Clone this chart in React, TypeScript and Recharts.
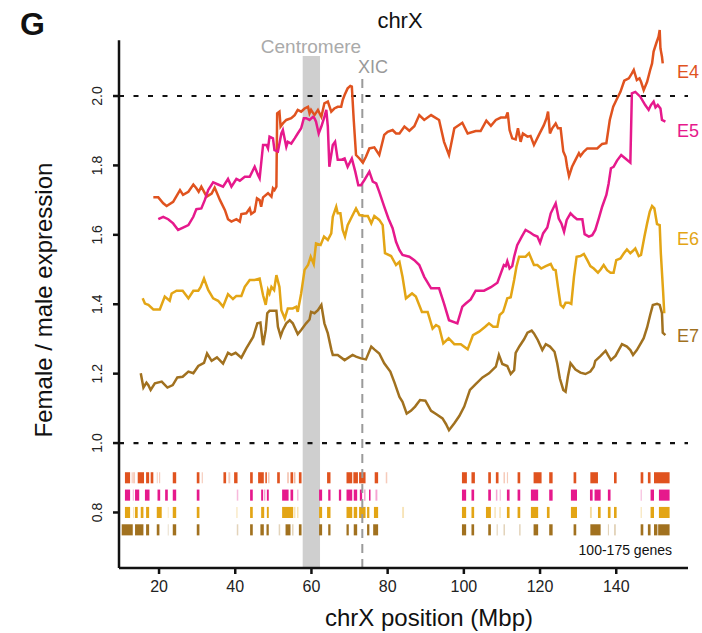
import React from "react"
import { LineChart, Line, XAxis, YAxis, ReferenceLine, ReferenceArea } from "recharts"

// chrX position (Mbp), female/male expression ratio
const e4: [number, number][] = [
  [18.5,1.708],[19.8,1.708],[21.1,1.691],[22.0,1.683],[23.7,1.695],[25.5,1.729],[26.3,1.715],[27.7,1.724],[29.0,1.745],[29.8,1.734],[30.4,1.724],[31.1,1.739],[32.5,1.710],[33.8,1.719],[34.6,1.736],[36.0,1.700],[37.3,1.671],[38.1,1.645],[39.0,1.638],[40.3,1.645],[41.2,1.638],[41.6,1.660],[42.9,1.662],[43.8,1.676],[44.2,1.660],[45.1,1.667],[45.7,1.705],[46.4,1.700],[46.8,1.681],[47.3,1.708],[48.6,1.720],[49.5,1.710],[49.9,1.734],[50.3,1.729],[50.8,1.739],[51.0,1.950],[51.6,1.955],[51.9,1.912],[52.5,1.921],[53.4,1.931],[54.7,1.936],[55.6,1.945],[56.4,1.960],[57.3,1.955],[58.2,1.964],[59.1,1.969],[59.5,1.950],[59.9,1.960],[60.8,1.945],[61.7,1.960],[62.6,1.940],[63.4,1.979],[64.3,1.984],[65.2,1.955],[66.0,1.964],[66.9,1.969],[67.8,1.969],[68.2,1.988],[68.7,2.003],[69.5,2.022],[70.2,2.029],[70.6,2.027],[71.1,1.931],[71.7,1.830],[72.6,1.820],[73.5,1.808],[74.3,1.825],[75.2,1.849],[76.5,1.852],[77.8,1.830],[79.1,1.888],[80.0,1.897],[81.3,1.902],[82.2,1.892],[83.1,1.892],[84.4,1.912],[85.7,1.900],[87.0,1.913],[88.3,1.945],[89.6,1.931],[91.4,1.945],[93.5,1.931],[94.8,1.868],[96.1,1.830],[97.5,1.907],[99.6,1.923],[101.0,1.892],[103.1,1.899],[104.4,1.899],[105.9,1.929],[107.1,1.914],[108.4,1.931],[109.7,1.938],[111.0,1.938],[111.5,1.953],[112.0,1.902],[112.7,1.878],[113.6,1.875],[114.2,1.907],[114.9,1.868],[115.5,1.892],[116.7,1.883],[117.5,1.885],[118.4,1.859],[119.7,1.888],[121.0,1.916],[121.7,1.936],[122.1,1.955],[122.6,1.892],[123.2,1.907],[124.1,1.921],[124.7,1.907],[125.4,1.907],[126.1,1.840],[126.7,1.825],[127.1,1.796],[127.6,1.769],[128.4,1.796],[129.3,1.816],[130.2,1.835],[130.6,1.827],[131.5,1.840],[132.4,1.849],[135.0,1.849],[136.3,1.862],[137.4,1.864],[138.3,1.931],[139.2,1.969],[140.0,1.988],[141.1,2.012],[142.1,2.044],[143.3,2.051],[144.1,2.065],[144.6,2.075],[145.4,2.046],[146.1,2.051],[146.5,2.041],[147.2,2.017],[148.1,2.041],[148.9,2.075],[149.4,2.094],[149.8,2.128],[150.5,2.152],[151.1,2.171],[151.4,2.190],[151.6,2.137],[152.0,2.113],[152.2,2.094],
]

const e5: [number, number][] = [
  [19.8,1.645],[21.1,1.652],[22.4,1.645],[23.7,1.633],[25.0,1.614],[26.3,1.621],[27.7,1.628],[29.0,1.652],[29.8,1.674],[31.1,1.676],[32.0,1.700],[32.9,1.729],[34.2,1.751],[35.5,1.745],[36.8,1.739],[38.1,1.761],[39.0,1.739],[40.3,1.761],[41.2,1.756],[42.5,1.767],[43.8,1.767],[45.1,1.796],[46.0,1.772],[46.4,1.763],[47.3,1.859],[48.2,1.859],[48.6,1.849],[49.0,1.883],[49.9,1.878],[50.3,1.844],[51.2,1.840],[52.1,1.892],[52.5,1.902],[53.4,1.854],[53.8,1.868],[54.7,1.863],[55.6,1.878],[56.4,1.892],[57.3,1.907],[58.0,1.936],[58.6,1.936],[59.5,1.931],[60.4,1.940],[60.8,1.936],[61.2,1.926],[61.9,1.892],[62.6,1.912],[63.3,1.936],[63.9,1.960],[64.3,1.912],[64.7,1.796],[65.6,1.859],[66.2,1.868],[66.9,1.816],[67.8,1.816],[68.7,1.820],[69.5,1.796],[70.6,1.820],[71.5,1.782],[72.3,1.743],[73.0,1.743],[73.9,1.758],[75.2,1.782],[76.1,1.753],[77.0,1.748],[77.8,1.724],[79.1,1.681],[80.2,1.647],[81.3,1.619],[82.2,1.580],[83.1,1.556],[83.9,1.542],[85.7,1.537],[87.0,1.527],[88.3,1.513],[89.6,1.479],[91.4,1.446],[93.5,1.446],[94.8,1.402],[96.1,1.354],[98.3,1.345],[99.6,1.393],[100.5,1.402],[101.8,1.414],[103.1,1.439],[105.3,1.439],[107.1,1.449],[108.8,1.462],[109.7,1.489],[110.5,1.513],[111.0,1.510],[111.4,1.524],[112.0,1.503],[112.7,1.510],[113.2,1.537],[114.0,1.570],[115.2,1.595],[116.2,1.614],[117.5,1.606],[118.4,1.599],[119.3,1.595],[120.0,1.577],[120.8,1.604],[121.9,1.621],[122.8,1.662],[124.1,1.691],[124.9,1.647],[125.6,1.633],[126.3,1.609],[127.0,1.643],[128.0,1.662],[128.9,1.652],[129.7,1.645],[131.1,1.645],[131.7,1.602],[132.8,1.595],[133.7,1.599],[134.5,1.614],[135.4,1.647],[136.3,1.681],[137.4,1.715],[138.0,1.748],[138.6,1.792],[139.3,1.796],[140.2,1.814],[141.3,1.830],[142.4,1.820],[143.7,1.808],[144.1,2.008],[145.0,2.012],[146.3,1.998],[147.6,1.974],[148.5,1.960],[149.1,1.974],[149.8,1.984],[150.3,1.967],[150.9,1.974],[151.6,1.964],[152.0,1.931],[152.9,1.926],
]

const e6: [number, number][] = [
  [15.7,1.417],[16.3,1.402],[17.2,1.398],[18.5,1.385],[20.2,1.385],[21.5,1.422],[22.8,1.410],[23.3,1.431],[24.6,1.439],[26.2,1.439],[27.7,1.417],[29.0,1.439],[30.3,1.439],[30.9,1.449],[31.8,1.474],[32.9,1.441],[34.2,1.417],[35.5,1.410],[36.8,1.393],[38.1,1.429],[39.4,1.415],[40.3,1.424],[41.6,1.424],[42.5,1.450],[43.8,1.470],[45.1,1.470],[46.4,1.474],[47.3,1.426],[48.0,1.398],[48.6,1.441],[49.0,1.431],[49.5,1.450],[50.2,1.441],[50.8,1.484],[51.6,1.450],[52.1,1.383],[53.0,1.359],[53.8,1.388],[55.1,1.388],[56.0,1.393],[56.4,1.378],[57.3,1.431],[58.2,1.499],[59.1,1.513],[59.8,1.537],[60.6,1.516],[61.2,1.575],[62.4,1.571],[63.3,1.595],[64.3,1.585],[65.2,1.604],[65.6,1.652],[66.5,1.681],[66.9,1.662],[67.6,1.662],[68.2,1.614],[68.8,1.595],[69.5,1.628],[70.6,1.652],[71.7,1.676],[72.6,1.657],[73.9,1.654],[74.8,1.654],[75.7,1.633],[76.5,1.654],[77.8,1.643],[78.7,1.628],[79.3,1.547],[80.9,1.539],[82.2,1.513],[83.1,1.522],[83.9,1.479],[84.8,1.417],[86.4,1.431],[87.4,1.422],[89.0,1.378],[90.5,1.378],[91.8,1.330],[92.7,1.340],[93.5,1.335],[94.6,1.287],[96.0,1.302],[97.5,1.285],[99.2,1.285],[101.0,1.270],[102.4,1.311],[104.0,1.321],[105.6,1.335],[106.6,1.345],[107.7,1.335],[108.8,1.335],[109.4,1.369],[110.3,1.378],[110.8,1.395],[111.4,1.417],[112.3,1.420],[113.2,1.470],[113.8,1.508],[114.5,1.537],[116.2,1.537],[117.1,1.547],[118.4,1.513],[119.3,1.513],[120.3,1.503],[121.5,1.510],[122.8,1.516],[123.5,1.500],[124.1,1.498],[124.7,1.450],[125.4,1.398],[126.1,1.391],[126.7,1.404],[127.6,1.404],[128.2,1.401],[128.9,1.479],[129.6,1.537],[130.6,1.539],[131.5,1.545],[132.4,1.527],[133.2,1.510],[134.1,1.503],[135.2,1.491],[135.9,1.500],[136.7,1.513],[137.6,1.498],[138.5,1.491],[139.3,1.491],[140.0,1.527],[141.1,1.532],[142.0,1.547],[142.8,1.558],[143.7,1.547],[144.4,1.554],[145.0,1.561],[145.9,1.539],[146.5,1.542],[147.4,1.595],[148.1,1.633],[148.8,1.667],[149.4,1.683],[150.0,1.676],[150.7,1.631],[151.4,1.628],[151.7,1.547],[152.3,1.436],[152.6,1.374],
]

const e7: [number, number][] = [
  [15.2,1.201],[15.9,1.160],[16.7,1.174],[17.2,1.167],[17.8,1.153],[18.9,1.172],[20.7,1.177],[22.2,1.160],[23.6,1.167],[24.8,1.189],[26.2,1.191],[27.7,1.206],[29.0,1.201],[30.3,1.222],[31.8,1.231],[32.6,1.258],[33.8,1.237],[35.2,1.247],[36.8,1.229],[38.1,1.260],[39.0,1.254],[40.1,1.260],[41.6,1.246],[42.9,1.273],[44.7,1.306],[45.8,1.345],[46.6,1.347],[47.3,1.282],[48.0,1.326],[48.4,1.374],[49.0,1.381],[50.2,1.381],[50.8,1.381],[51.2,1.335],[51.9,1.308],[52.5,1.326],[53.4,1.345],[54.3,1.354],[55.1,1.345],[56.4,1.314],[57.3,1.326],[58.6,1.345],[59.5,1.356],[59.9,1.378],[60.8,1.374],[61.7,1.383],[62.6,1.398],[63.4,1.345],[64.3,1.316],[65.2,1.270],[65.6,1.254],[66.9,1.254],[68.7,1.239],[70.8,1.254],[71.7,1.249],[73.0,1.244],[74.3,1.241],[75.7,1.278],[76.5,1.270],[77.8,1.258],[79.1,1.230],[80.7,1.206],[81.8,1.174],[83.1,1.133],[83.9,1.119],[85.0,1.085],[86.1,1.093],[87.2,1.105],[88.5,1.124],[89.9,1.122],[91.4,1.093],[92.8,1.083],[94.4,1.071],[95.3,1.055],[96.1,1.037],[97.5,1.057],[98.8,1.078],[100.1,1.105],[101.6,1.153],[103.1,1.170],[104.9,1.189],[106.6,1.201],[108.4,1.220],[109.2,1.254],[110.1,1.228],[111.4,1.222],[112.3,1.199],[113.2,1.210],[113.6,1.260],[114.6,1.279],[115.8,1.299],[116.7,1.318],[117.8,1.324],[118.4,1.316],[119.4,1.297],[120.6,1.268],[121.5,1.285],[122.6,1.278],[123.8,1.263],[124.5,1.230],[125.2,1.186],[126.1,1.153],[126.7,1.148],[127.3,1.191],[128.0,1.230],[129.3,1.212],[130.6,1.203],[131.9,1.199],[133.2,1.206],[134.1,1.220],[134.5,1.237],[135.9,1.251],[137.2,1.266],[137.8,1.254],[138.6,1.239],[139.8,1.251],[141.5,1.285],[142.8,1.278],[143.7,1.268],[144.4,1.254],[145.4,1.268],[146.5,1.289],[147.2,1.302],[148.1,1.333],[148.9,1.369],[149.6,1.398],[150.7,1.401],[151.4,1.398],[152.0,1.374],[152.2,1.318],[152.9,1.311],
]

// gene bins per stage: [start Mbp, end Mbp, opacity]
const genesE4: [number, number, number][] = [
  [11.05,12.4,1],[12.8,13.1,0.3],[13.2,13.7,0.3],[14.4,16.05,1],[16.6,17.4,1],[17.8,18.5,1],[19.4,19.65,0.3],[20.0,20.3,0.3],[23.6,24.5,1],[29.9,30.6,1],[31.2,31.5,0.3],[36.9,37.6,1],[38.2,38.7,0.3],[39.7,40.6,1],[43.9,44.6,1],[46.0,47.5,1],[47.9,48.3,1],[48.6,49.0,0.3],[51.0,51.7,1],[53.6,54.1,0.3],[54.5,55.2,1],[55.4,55.8,0.4],[56.7,57.4,1],[64.1,65.0,1],[69.2,70.7,1],[71.0,72.2,1],[72.5,74.2,1],[76.6,77.5,1],[79.5,79.9,0.3],[99.5,100.8,1],[102.0,102.9,1],[106.4,107.1,1],[108.4,109.1,1],[110.4,110.8,0.3],[111.3,111.6,0.3],[114.1,114.8,1],[118.3,120.4,1],[122.4,123.3,1],[128.8,129.5,1],[133.2,135.2,1],[139.4,140.1,1],[146.4,147.1,1],[148.3,149.0,1],[149.9,154.0,1],
]
const genesE5: [number, number, number][] = [
  [11.05,12.4,1],[13.1,13.4,0.3],[13.7,14.8,1],[16.3,17.5,1],[19.6,20.3,1],[21.6,22.3,1],[23.6,24.5,1],[29.9,30.6,1],[40.4,40.8,0.3],[43.9,44.6,1],[46.8,47.3,1],[47.5,47.9,0.4],[48.3,48.8,1],[52.3,54.0,1],[54.5,55.2,1],[56.2,56.6,0.3],[62.0,62.8,1],[64.4,65.0,1],[67.2,67.8,1],[69.2,70.7,1],[71.1,72.0,1],[72.7,73.3,1],[73.8,74.2,0.4],[75.1,75.5,1],[76.8,77.3,0.4],[99.5,100.6,1],[102.0,102.7,1],[106.4,107.1,1],[108.4,108.8,0.4],[109.4,109.7,0.3],[111.3,112.0,1],[114.1,114.8,1],[117.6,119.5,1],[122.4,123.3,1],[128.1,129.7,1],[133.1,133.8,1],[134.3,135.9,1],[137.8,138.5,1],[146.4,146.7,0.3],[149.0,149.9,1],[151.2,154.0,1],
]
const genesE6: [number, number, number][] = [
  [11.05,12.4,1],[13.2,13.5,0.3],[13.7,14.4,1],[15.2,15.9,1],[16.6,17.4,1],[19.4,20.7,1],[22.3,22.5,0.3],[23.6,24.5,1],[29.9,30.6,1],[40.3,40.6,0.3],[43.9,44.6,1],[46.8,47.6,1],[48.3,48.8,1],[52.3,55.2,1],[55.4,55.8,0.3],[56.2,56.6,0.3],[62.0,62.8,1],[64.1,65.0,1],[69.2,70.7,1],[71.1,72.0,1],[72.5,74.2,1],[74.6,75.2,1],[76.4,77.5,1],[83.8,84.3,0.3],[99.5,100.6,1],[102.0,102.7,1],[105.8,107.1,1],[108.0,108.4,0.3],[109.3,109.7,0.3],[111.3,112.0,1],[114.1,114.8,1],[117.6,119.5,1],[121.8,122.5,1],[128.1,129.7,1],[133.1,133.6,0.4],[135.2,135.9,1],[137.8,138.5,1],[139.4,140.1,1],[146.4,146.7,0.3],[149.0,149.9,1],[151.2,154.0,1],
]
const genesE7: [number, number, number][] = [
  [10.2,13.1,1],[13.7,15.9,1],[16.6,17.4,1],[19.4,20.1,1],[22.3,22.5,0.3],[23.6,24.5,1],[29.9,30.6,1],[40.4,40.8,0.3],[43.9,44.6,1],[46.6,47.5,1],[48.2,48.8,1],[51.4,51.8,0.3],[53.2,54.5,1],[54.9,55.3,0.3],[56.7,57.4,1],[62.0,62.8,1],[64.4,65.0,1],[69.2,69.8,1],[71.1,72.0,1],[74.6,75.2,1],[76.2,77.5,1],[99.5,100.6,1],[102.0,102.7,1],[106.4,107.1,1],[108.6,108.9,0.3],[110.4,110.8,0.3],[114.5,114.9,0.3],[118.3,119.5,1],[122.4,123.3,1],[128.8,129.5,1],[133.2,135.9,1],[137.8,138.1,0.3],[139.4,139.9,0.3],[146.4,147.1,1],[148.3,149.0,1],[149.9,150.8,1],[151.0,154.0,1],
]

const xTicks = [20, 40, 60, 80, 100, 120, 140]
const yTicks = [0.8, 1.0, 1.2, 1.4, 1.6, 1.8, 2.0]

const C4 = "#e0531f"
const C5 = "#e6198c"
const C6 = "#e3a515"
const C7 = "#a1711f"
const FONT = "'Liberation Sans', Arial, Helvetica, sans-serif"

const X_MIN = 9.49
const Y_MIN = 0.64
const Y_AXIS_TOP = 2.161

const series = [
  { name: "E4", pts: e4, genes: genesE4, color: C4, row: 0.9 },
  { name: "E5", pts: e5, genes: genesE5, color: C5, row: 0.85 },
  { name: "E6", pts: e6, genes: genesE6, color: C6, row: 0.8 },
  { name: "E7", pts: e7, genes: genesE7, color: C7, row: 0.75 },
]

const toData = (pts: [number, number][]) => pts.map(([x, y]) => ({ x, y }))

const YTick = ({ x, y, payload }: any) => (
  <text x={x} y={y} transform={`rotate(-90, ${x}, ${y})`} textAnchor="middle" fontSize={14} fill="#222" fontFamily={FONT}>
    {Number(payload.value).toFixed(1)}
  </text>
)

export default function App() {
  return (
    <div style={{ position: "absolute", left: 0, top: 0, width: 702, height: 633, background: "#fff" }}>
      <LineChart width={702} height={633} margin={{ top: 26.6, right: 14, bottom: 25, left: 79 }}>
        <XAxis
          dataKey="x"
          type="number"
          domain={[X_MIN, 158.83]}
          allowDataOverflow
          ticks={xTicks}
          height={40}
          tickSize={6}
          tickMargin={7}
          stroke="#111"
          strokeWidth={2.5}
          tick={{ fontSize: 16, fill: "#222", fontFamily: FONT }}
        />
        <YAxis
          type="number"
          domain={[Y_MIN, 2.2]}
          allowDataOverflow
          ticks={yTicks}
          width={40}
          tickSize={6}
          tickMargin={11}
          axisLine={false}
          tickLine={{ stroke: "#111", strokeWidth: 2.5 }}
          tick={<YTick />}
        />
        <ReferenceArea x1={57.7} x2={62.25} y1={Y_MIN} y2={2.115} fill="#cfcfcf" fillOpacity={1} stroke="none" />
        {series.map((s) =>
          s.genes.map(([a, b, o], i) => (
            <ReferenceArea
              key={s.name + i}
              x1={a}
              x2={b}
              y1={s.row - 0.016}
              y2={s.row + 0.016}
              fill={s.color}
              fillOpacity={o}
              stroke="none"
            />
          ))
        )}
        <ReferenceLine
          segment={[{ x: X_MIN, y: Y_MIN }, { x: X_MIN, y: Y_AXIS_TOP }]}
          stroke="#111"
          strokeWidth={2.5}
        />
        <ReferenceLine y={2} stroke="#111" strokeWidth={2.2} strokeDasharray="5 9.5" />
        <ReferenceLine y={1} stroke="#111" strokeWidth={2.2} strokeDasharray="5 9.5" />
        <ReferenceLine
          segment={[{ x: 73.35, y: Y_MIN }, { x: 73.35, y: 2.052 }]}
          stroke="#9a9a9a"
          strokeWidth={2}
          strokeDasharray="9 6"
        />
        {series.map((s) => (
          <Line
            key={s.name}
            data={toData(s.pts)}
            dataKey="y"
            type="linear"
            stroke={s.color}
            strokeWidth={2.5}
            dot={false}
            activeDot={false}
            isAnimationActive={false}
          />
        ))}
      </LineChart>
      <svg width={702} height={633} style={{ position: "absolute", left: 0, top: 0, pointerEvents: "none" }} fontFamily={FONT}>
        <text x={20} y={35} fontSize={32} fontWeight="bold" fill="#111">G</text>
        <text x={400} y={28} fontSize={22} textAnchor="middle" fill="#111">chrX</text>
        <text x={311} y={53} fontSize={19} textAnchor="middle" fill="#aaa">Centromere</text>
        <text x={373} y={73} fontSize={18} textAnchor="middle" fill="#999">XIC</text>
        <text x={677} y={78} fontSize={18} fill={C4}>E4</text>
        <text x={677} y={137} fontSize={18} fill={C5}>E5</text>
        <text x={677} y={245} fontSize={18} fill={C6}>E6</text>
        <text x={677} y={342} fontSize={18} fill={C7}>E7</text>
        <text x={672} y={555} fontSize={14} textAnchor="end" fill="#111">100-175 genes</text>
        <text x={52} y={300} fontSize={24} textAnchor="middle" fill="#111" transform="rotate(-90, 52, 300)">Female / male expression</text>
        <text x={429} y={626} fontSize={24} textAnchor="middle" fill="#111">chrX position (Mbp)</text>
      </svg>
    </div>
  )
}
